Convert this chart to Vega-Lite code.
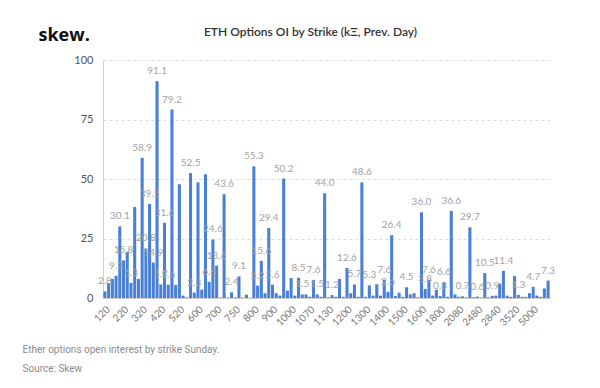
{
  "$schema": "https://vega.github.io/schema/vega-lite/v6.json",
  "autosize": {"type": "none"},
  "width": 447,
  "height": 238,
  "padding": {"left": 103, "top": 60, "right": 50, "bottom": 90},
  "background": "white",
  "title": {
    "text": "ETH Options OI by Strike (kΞ, Prev. Day)",
    "anchor": "middle",
    "frame": "group",
    "dx": -16,
    "dy": 33,
    "offset": 20,
    "font": "Lato",
    "fontSize": 12,
    "fontWeight": 600,
    "color": "#333333"
  },
  "config": {
    "view": {"stroke": null},
    "axis": {"labelFont": "Lato", "titleFont": "Lato"}
  },
  "data": {
    "values": [
      {"strike": 120, "oi": 2.8, "label": "2.8"},
      {"strike": 140, "oi": 6.3, "label": ""},
      {"strike": 160, "oi": 8.0, "label": ""},
      {"strike": 180, "oi": 9.3, "label": "9.3"},
      {"strike": 200, "oi": 30.1, "label": "30.1"},
      {"strike": 220, "oi": 15.8, "label": "15.8"},
      {"strike": 240, "oi": 19.4, "label": ""},
      {"strike": 260, "oi": 6.3, "label": "6.3"},
      {"strike": 280, "oi": 38.2, "label": ""},
      {"strike": 300, "oi": 8.0, "label": ""},
      {"strike": 320, "oi": 58.9, "label": "58.9"},
      {"strike": 340, "oi": 20.8, "label": "20.8"},
      {"strike": 360, "oi": 39.5, "label": "39.5"},
      {"strike": 380, "oi": 14.9, "label": "14.9"},
      {"strike": 400, "oi": 91.1, "label": "91.1"},
      {"strike": 420, "oi": 5.7, "label": "5.7"},
      {"strike": 440, "oi": 31.6, "label": "31.6"},
      {"strike": 460, "oi": 5.6, "label": "5.6"},
      {"strike": 480, "oi": 79.2, "label": "79.2"},
      {"strike": 500, "oi": 5.5, "label": ""},
      {"strike": 520, "oi": 47.8, "label": ""},
      {"strike": 540, "oi": 1.0, "label": ""},
      {"strike": 560, "oi": 0.3, "label": ""},
      {"strike": 570, "oi": 52.5, "label": "52.5"},
      {"strike": 580, "oi": 2.3, "label": "2.3"},
      {"strike": 600, "oi": 48.6, "label": ""},
      {"strike": 620, "oi": 3.5, "label": ""},
      {"strike": 640, "oi": 52.0, "label": ""},
      {"strike": 660, "oi": 6.8, "label": "6.8"},
      {"strike": 680, "oi": 24.6, "label": "24.6"},
      {"strike": 700, "oi": 13.6, "label": "13.6"},
      {"strike": 710, "oi": 0.2, "label": ""},
      {"strike": 720, "oi": 43.6, "label": "43.6"},
      {"strike": 730, "oi": 0.2, "label": ""},
      {"strike": 740, "oi": 2.4, "label": "2.4"},
      {"strike": 750, "oi": 0.3, "label": ""},
      {"strike": 760, "oi": 9.1, "label": "9.1"},
      {"strike": 770, "oi": 0.2, "label": ""},
      {"strike": 780, "oi": 1.4, "label": ""},
      {"strike": 790, "oi": 0.1, "label": ""},
      {"strike": 800, "oi": 55.3, "label": "55.3"},
      {"strike": 820, "oi": 5.2, "label": "5.2"},
      {"strike": 840, "oi": 15.6, "label": "15.6"},
      {"strike": 860, "oi": 2.0, "label": ""},
      {"strike": 880, "oi": 29.4, "label": "29.4"},
      {"strike": 900, "oi": 5.6, "label": "5.6"},
      {"strike": 920, "oi": 2.0, "label": ""},
      {"strike": 940, "oi": 1.0, "label": ""},
      {"strike": 960, "oi": 50.2, "label": "50.2"},
      {"strike": 980, "oi": 3.1, "label": ""},
      {"strike": 1000, "oi": 8.4, "label": ""},
      {"strike": 1020, "oi": 1.0, "label": ""},
      {"strike": 1030, "oi": 8.5, "label": "8.5"},
      {"strike": 1040, "oi": 1.5, "label": "1.5"},
      {"strike": 1060, "oi": 1.5, "label": ""},
      {"strike": 1070, "oi": 0.5, "label": ""},
      {"strike": 1080, "oi": 7.6, "label": "7.6"},
      {"strike": 1090, "oi": 1.5, "label": "1.5"},
      {"strike": 1100, "oi": 0.5, "label": ""},
      {"strike": 1120, "oi": 44.0, "label": "44.0"},
      {"strike": 1130, "oi": 0.3, "label": ""},
      {"strike": 1140, "oi": 1.2, "label": "1.2"},
      {"strike": 1150, "oi": 0.5, "label": ""},
      {"strike": 1160, "oi": 8.0, "label": ""},
      {"strike": 1180, "oi": 0.5, "label": ""},
      {"strike": 1200, "oi": 12.6, "label": "12.6"},
      {"strike": 1220, "oi": 2.0, "label": ""},
      {"strike": 1240, "oi": 5.7, "label": "5.7"},
      {"strike": 1250, "oi": 0.5, "label": ""},
      {"strike": 1280, "oi": 48.6, "label": "48.6"},
      {"strike": 1300, "oi": 0.5, "label": ""},
      {"strike": 1320, "oi": 5.3, "label": "5.3"},
      {"strike": 1340, "oi": 1.0, "label": ""},
      {"strike": 1360, "oi": 5.8, "label": ""},
      {"strike": 1380, "oi": 1.0, "label": ""},
      {"strike": 1400, "oi": 7.6, "label": "7.6"},
      {"strike": 1420, "oi": 2.6, "label": "2.6"},
      {"strike": 1440, "oi": 26.4, "label": "26.4"},
      {"strike": 1450, "oi": 0.8, "label": ""},
      {"strike": 1480, "oi": 2.2, "label": ""},
      {"strike": 1500, "oi": 0.5, "label": ""},
      {"strike": 1520, "oi": 4.5, "label": "4.5"},
      {"strike": 1540, "oi": 1.5, "label": ""},
      {"strike": 1550, "oi": 2.0, "label": ""},
      {"strike": 1580, "oi": 0.3, "label": ""},
      {"strike": 1600, "oi": 36.0, "label": "36.0"},
      {"strike": 1640, "oi": 3.8, "label": "3.8"},
      {"strike": 1680, "oi": 7.6, "label": "7.6"},
      {"strike": 1700, "oi": 1.0, "label": ""},
      {"strike": 1760, "oi": 3.5, "label": ""},
      {"strike": 1800, "oi": 0.8, "label": "0.8"},
      {"strike": 1840, "oi": 6.6, "label": "6.6"},
      {"strike": 1880, "oi": 0.5, "label": ""},
      {"strike": 1920, "oi": 36.6, "label": "36.6"},
      {"strike": 2000, "oi": 1.5, "label": ""},
      {"strike": 2080, "oi": 0.5, "label": ""},
      {"strike": 2160, "oi": 0.7, "label": "0.7"},
      {"strike": 2200, "oi": 0.3, "label": ""},
      {"strike": 2240, "oi": 29.7, "label": "29.7"},
      {"strike": 2400, "oi": 0.3, "label": ""},
      {"strike": 2480, "oi": 0.6, "label": "0.6"},
      {"strike": 2560, "oi": 0.2, "label": ""},
      {"strike": 2600, "oi": 10.5, "label": "10.5"},
      {"strike": 2640, "oi": 0.3, "label": ""},
      {"strike": 2800, "oi": 0.9, "label": "0.9"},
      {"strike": 2840, "oi": 1.0, "label": ""},
      {"strike": 2880, "oi": 6.0, "label": ""},
      {"strike": 3000, "oi": 11.4, "label": "11.4"},
      {"strike": 3200, "oi": 1.0, "label": ""},
      {"strike": 3400, "oi": 0.5, "label": ""},
      {"strike": 3520, "oi": 9.2, "label": ""},
      {"strike": 3600, "oi": 1.3, "label": "1.3"},
      {"strike": 3800, "oi": 0.5, "label": ""},
      {"strike": 4000, "oi": 0.5, "label": ""},
      {"strike": 4400, "oi": 2.0, "label": ""},
      {"strike": 5000, "oi": 4.7, "label": "4.7"},
      {"strike": 5200, "oi": 1.0, "label": ""},
      {"strike": 5600, "oi": 0.5, "label": ""},
      {"strike": 6000, "oi": 4.0, "label": ""},
      {"strike": 8000, "oi": 7.3, "label": "7.3"}
    ]
  },
  "encoding": {
    "x": {
      "field": "strike",
      "type": "ordinal",
      "scale": {"paddingInner": 0.18, "paddingOuter": 0.1},
      "axis": {
        "values": [120, 220, 320, 420, 520, 600, 700, 750, 800, 900, 1000, 1070, 1130, 1200, 1300, 1400, 1500, 1600, 1800, 2080, 2480, 2840, 3520, 5000],
        "labelAngle": -45,
        "labelFontSize": 10,
        "labelColor": "#777777",
        "labelPadding": 6,
        "ticks": false,
        "domain": true,
        "domainColor": "#cccccc",
        "title": ["Ether options open interest by strike Sunday.", "Source: Skew"],
        "titleX": -81,
        "titleY": 46,
        "titleAlign": "left",
        "titleAnchor": "start",
        "titleBaseline": "top",
        "titleLineHeight": 19,
        "titleFont": "Roboto",
        "titleFontSize": 10,
        "titleFontWeight": "normal",
        "titleColor": "#8c8c8c"
      }
    },
    "y": {
      "field": "oi",
      "type": "quantitative",
      "scale": {"domain": [0, 100], "nice": false},
      "axis": {
        "values": [0, 25, 50, 75, 100],
        "labelFontSize": 11,
        "labelColor": "#555555",
        "labelPadding": 10,
        "ticks": false,
        "domain": true,
        "domainColor": "#d0d0d0",
        "grid": true,
        "gridDash": [3, 3],
        "gridColor": "#dddddd",
        "title": "skew.",
        "titleAngle": 0,
        "titleX": -65,
        "titleY": -25,
        "titleAlign": "left",
        "titleBaseline": "middle",
        "titleFont": "Open Sans",
        "titleFontSize": 18,
        "titleFontWeight": "bold",
        "titleColor": "#111111"
      }
    }
  },
  "layer": [
    {"mark": {"type": "bar", "color": "#4a7fd6"}},
    {
      "mark": {"type": "text", "baseline": "bottom", "dy": -5, "fontSize": 10, "font": "Lato", "color": "#a3a3a3"},
      "encoding": {"text": {"field": "label"}}
    }
  ]
}
